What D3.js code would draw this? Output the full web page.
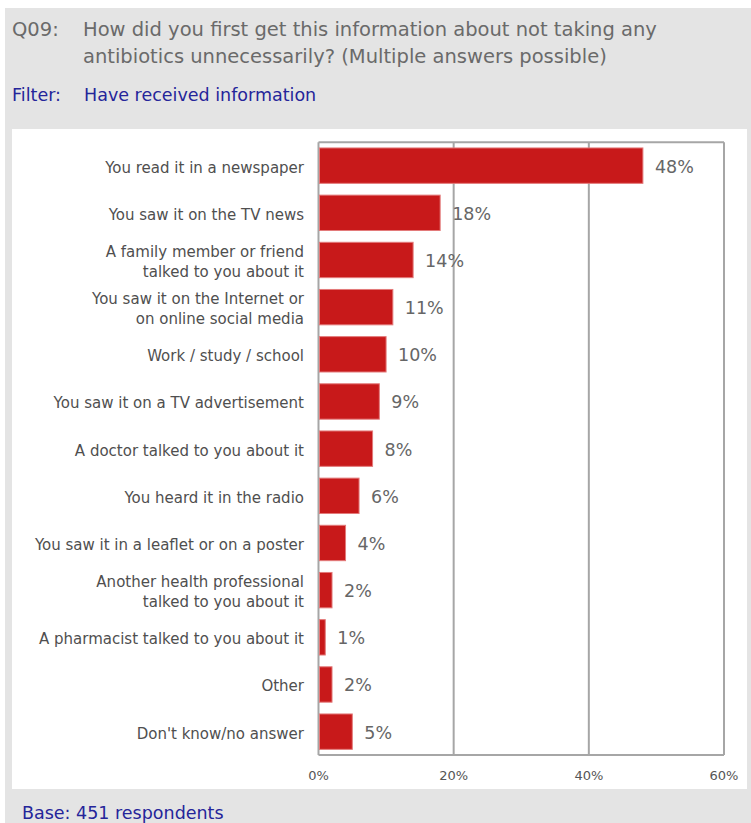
<!DOCTYPE html>
<html>
<head>
<meta charset="utf-8">
<script src="https://cdn.jsdelivr.net/npm/d3@7"></script>
<style>
  html, body { margin: 0; padding: 0; background: #ffffff; }
  svg { display: block; }
</style>
</head>
<body>
<svg id="chart" width="751" height="823"></svg>
<script>
// Survey question Q09 — sources of information (multiple answers)
const categories = [
  ["You read it in a newspaper"],
  ["You saw it on the TV news"],
  ["A family member or friend", "talked to you about it"],
  ["You saw it on the Internet or", "on online social media"],
  ["Work / study / school"],
  ["You saw it on a TV advertisement"],
  ["A doctor talked to you about it"],
  ["You heard it in the radio"],
  ["You saw it in a leaflet or on a poster"],
  ["Another health professional", "talked to you about it"],
  ["A pharmacist talked to you about it"],
  ["Other"],
  ["Don't know/no answer"]
];
const values = [48, 18, 14, 11, 10, 9, 8, 6, 4, 2, 1, 2, 5];
const xTicks = [0, 20, 40, 60];
const tickLabels = ["0%", "20%", "40%", "60%"];

const questionId = "Q09:";
const questionLines = [
  "How did you first get this information about not taking any",
  "antibiotics unnecessarily? (Multiple answers possible)"
];
const filterLabel = "Filter:";
const filterText = "Have received information";
const baseText = "Base: 451 respondents";

const svg = d3.select("#chart");
const sans = "'DejaVu Sans', Verdana, sans-serif";

// background panels
svg.append("rect").attr("x", 5).attr("y", 8).attr("width", 746).attr("height", 815).attr("fill", "#e4e4e4");
svg.append("rect").attr("x", 12).attr("y", 129).attr("width", 735).attr("height", 660).attr("fill", "#ffffff");

// header
const titleColor = "#6a6a6a";
svg.append("text").attr("x", 12).attr("y", 35.5).text(questionId)
  .attr("font-family", sans).attr("font-size", 19.5).attr("fill", titleColor);
questionLines.forEach((t, i) => {
  svg.append("text").attr("x", 83).attr("y", 35.5 + i * 27).text(t)
    .attr("font-family", sans).attr("font-size", 19.5).attr("fill", titleColor);
});
const blue = "#25259a";
svg.append("text").attr("x", 12).attr("y", 101).text(filterLabel)
  .attr("font-family", sans).attr("font-size", 17.5).attr("fill", blue);
svg.append("text").attr("x", 84).attr("y", 101).text(filterText)
  .attr("font-family", sans).attr("font-size", 17.5).attr("fill", blue);
svg.append("text").attr("x", 22).attr("y", 819).text(baseText)
  .attr("font-family", sans).attr("font-size", 17.5).attr("fill", blue);

// plot area
const plotLeft = 318.5, plotRight = 724, plotTop = 142.3, plotBottom = 755;
const x = d3.scaleLinear().domain([0, 60]).range([plotLeft, plotRight]);
const y = d3.scaleBand().domain(d3.range(categories.length)).range([plotTop, plotBottom])
  .paddingInner(0.25).paddingOuter(0.12);

const gridColor = "#a6a6a6";
const g = svg.append("g");

// vertical gridlines
g.selectAll("line.grid").data(xTicks).join("line")
  .attr("class", "grid")
  .attr("x1", d => x(d)).attr("x2", d => x(d))
  .attr("y1", plotTop).attr("y2", plotBottom)
  .attr("stroke", gridColor).attr("stroke-width", 2);
g.append("line").attr("x1", plotLeft).attr("x2", plotRight).attr("y1", plotTop).attr("y2", plotTop)
  .attr("stroke", gridColor).attr("stroke-width", 2);
g.append("line").attr("x1", plotLeft).attr("x2", plotRight).attr("y1", plotBottom).attr("y2", plotBottom)
  .attr("stroke", gridColor).attr("stroke-width", 2);

// bars
g.selectAll("rect.bar").data(values).join("rect")
  .attr("class", "bar")
  .attr("x", x(0) + 1)
  .attr("y", (d, i) => y(i))
  .attr("width", d => x(d) - x(0) - 1)
  .attr("height", y.bandwidth())
  .attr("fill", "#c8191a")
  .attr("stroke", "#e37a7a").attr("stroke-width", 1);

// value labels
g.selectAll("text.val").data(values).join("text")
  .attr("class", "val")
  .attr("x", d => x(d) + 12)
  .attr("y", (d, i) => y(i) + y.bandwidth() / 2 + 7)
  .text(d => d + "%")
  .attr("font-family", sans).attr("font-size", 17.5)
  .attr("fill", "#666666");

// category labels
const labels = g.selectAll("text.cat").data(categories).join("text")
  .attr("class", "cat")
  .attr("text-anchor", "end")
  .attr("font-family", sans).attr("font-size", 15)
  .attr("fill", "#4f4f4f");
labels.each(function (lines, i) {
  const cy = y(i) + y.bandwidth() / 2 + 7;
  const start = cy - (lines.length - 1) * 10;
  d3.select(this).selectAll("tspan").data(lines).join("tspan")
    .attr("x", 304).attr("y", (d, j) => start + j * 20).text(d => d);
});

// x axis tick labels
g.selectAll("text.tick").data(xTicks).join("text")
  .attr("class", "tick")
  .attr("x", d => x(d)).attr("y", 780)
  .attr("text-anchor", "middle")
  .text((d, i) => tickLabels[i])
  .attr("font-family", sans).attr("font-size", 13)
  .attr("fill", "#555555");
</script>
</body>
</html>
